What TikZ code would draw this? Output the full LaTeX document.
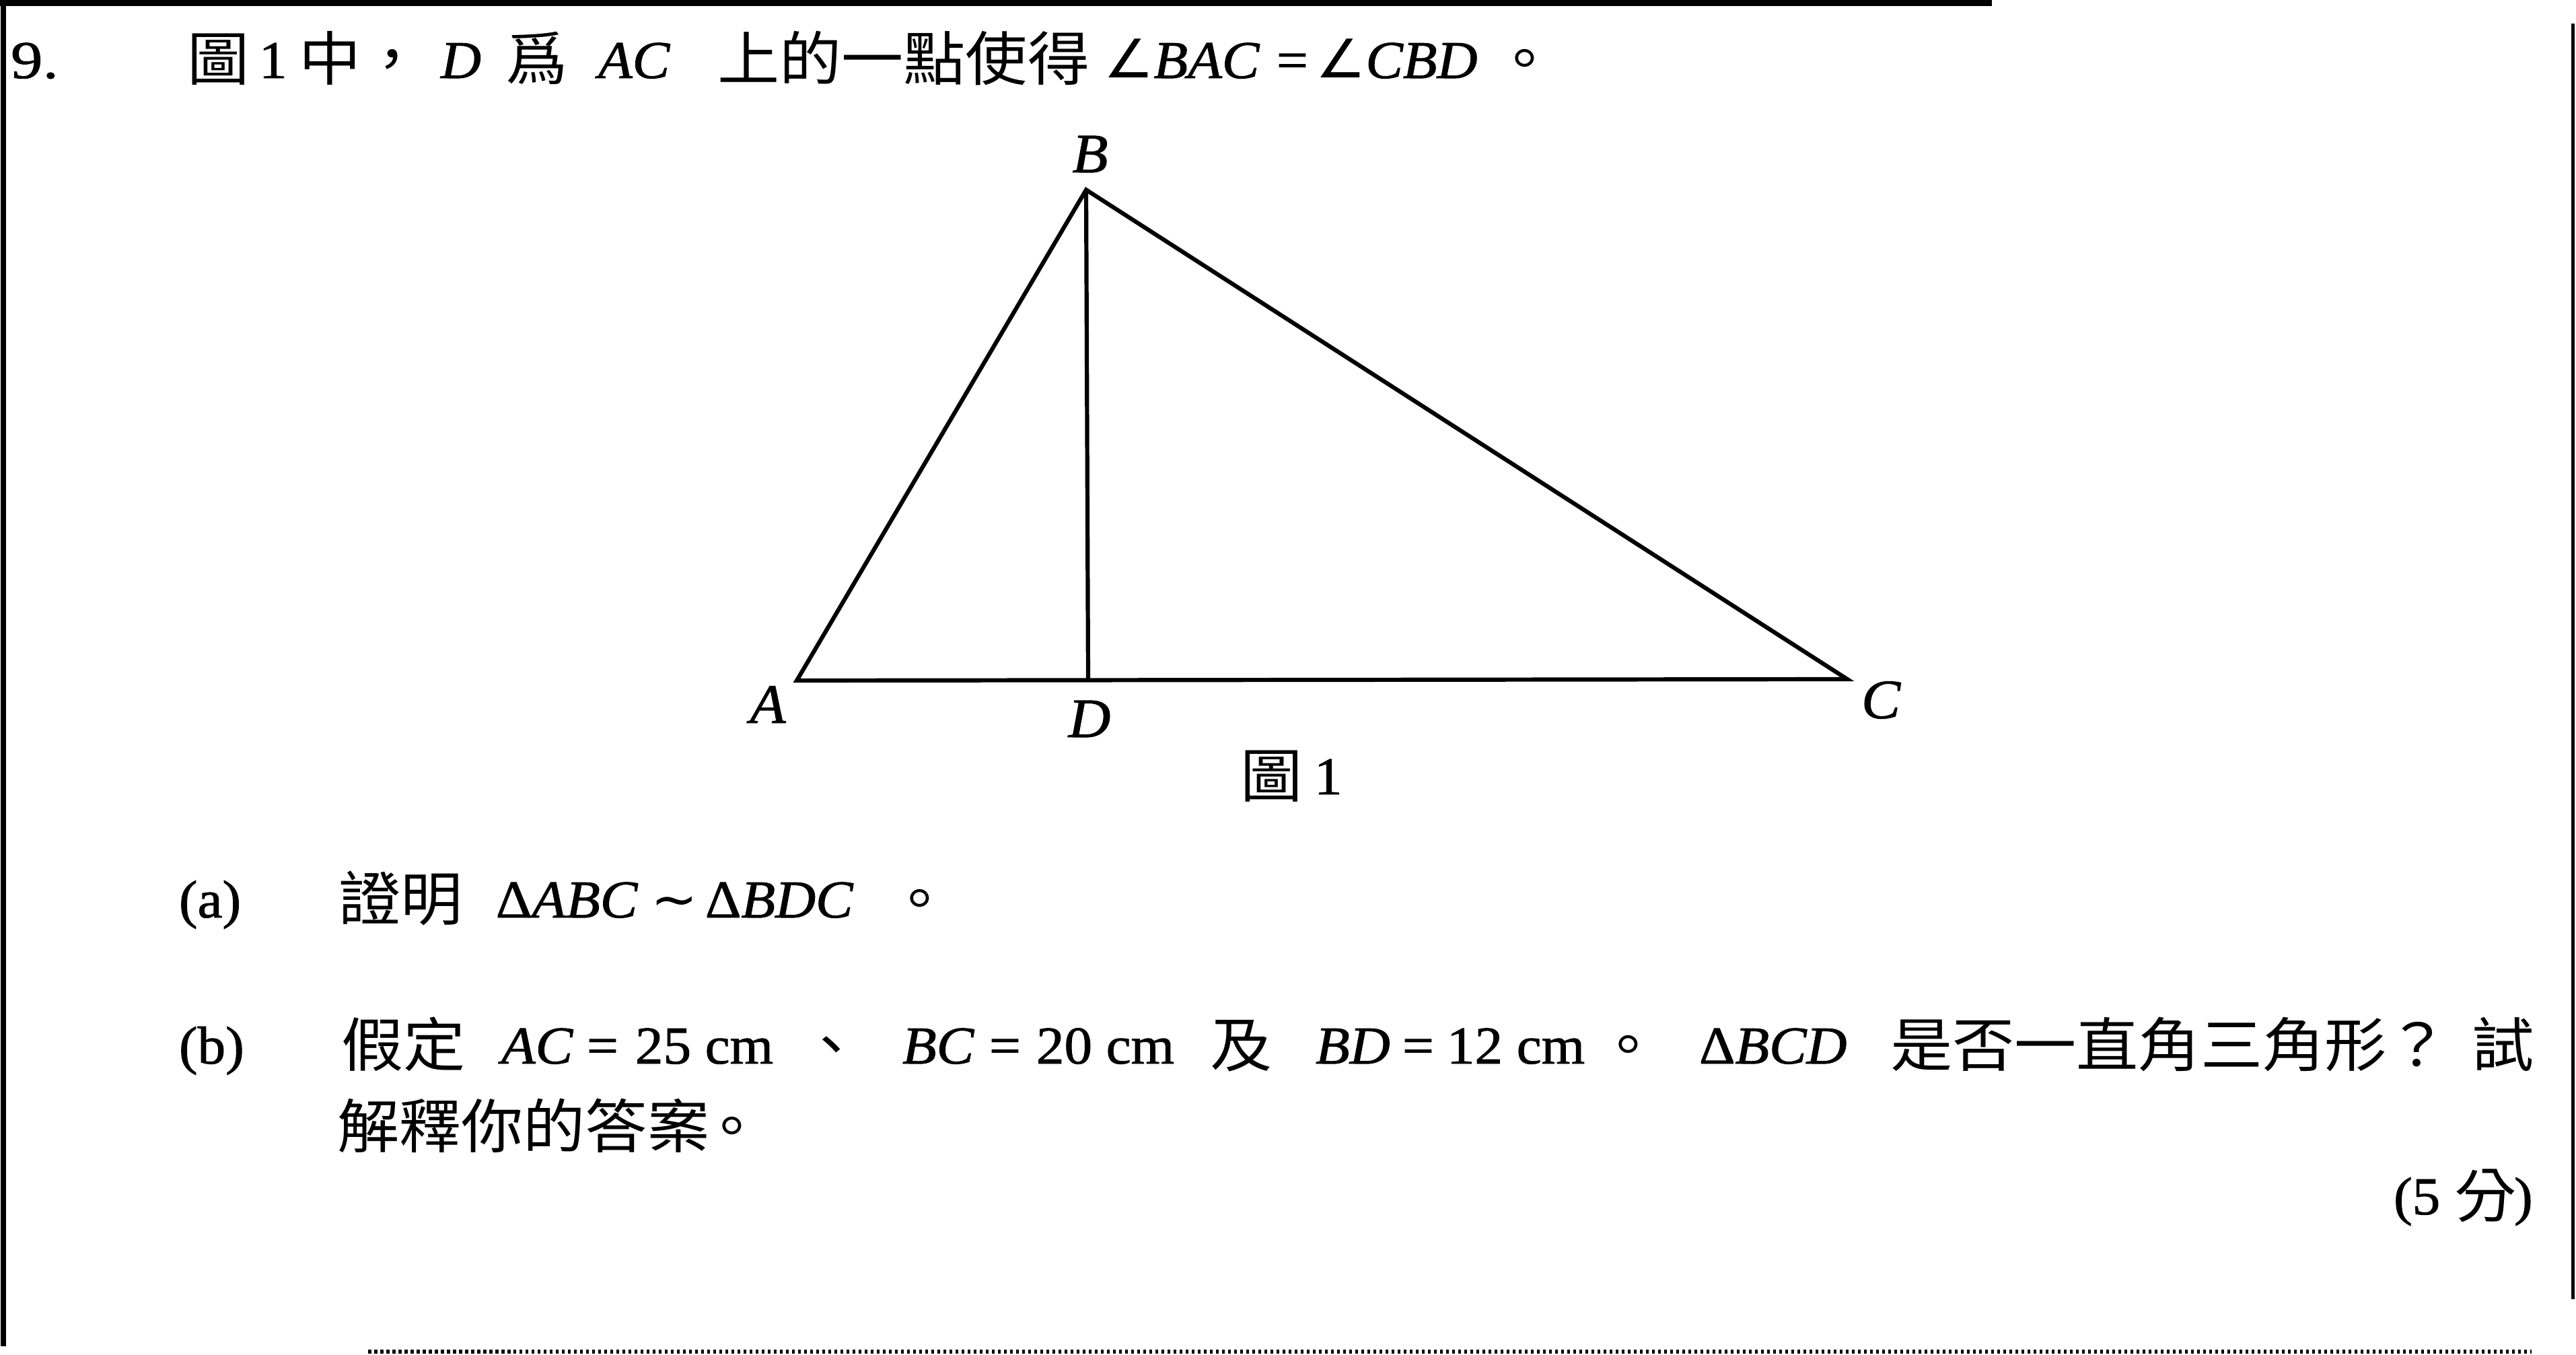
\documentclass[tikz,border=0pt]{standalone}
\usepackage{fontspec}
\setmainfont{Liberation Serif}[FakeStretch=1.05, FakeBold=1.2]
\newfontfamily\cjk{Noto Sans CJK TC}[Scale=1.1, FakeStretch=1.06]
\newfontfamily\dvs{DejaVu Sans}[FakeStretch=1.05]
\begin{document}
\begin{tikzpicture}[x=1cm,y=1cm,
  txt/.style={anchor=base west, inner sep=0pt, outer sep=0pt, font=\fontsize{22.5}{27}\selectfont},
  zh/.style={txt, font=\fontsize{22.5}{27}\selectfont\cjk, yshift=-0.04cm},
  zhc/.style={zh, anchor=base},
  ctr/.style={txt, anchor=base},
  lbl/.style={anchor=base, inner sep=0pt, outer sep=0pt, font=\fontsize{23.5}{28}\selectfont\itshape},
  seg/.style={line width=0.062cm, line join=miter},
  frame/.style={line width=0.09cm},
]
\useasboundingbox (0,0) rectangle (38.28,-20.13);
\fill[white] (0,0) rectangle (38.28,-20.13);

% frame of the question
\draw[frame] (0,-0.045) -- (29.6,-0.045);
\draw[frame, line width=0.07cm] (0.05,0) -- (0.05,-20.0);
\draw[line width=0.05cm] (38.23,-0.35) -- (38.23,-19.3);
\draw[line width=0.06cm, dash pattern=on 0.045cm off 0.045cm] (5.47,-20.08) -- (37.62,-20.08);

% line 1
\node[txt, font=\fontsize{22.5}{27}\selectfont\addfontfeatures{FakeStretch=1.2}] (n9) at (0.16,-1.16) {9.};
\node[zh] (t1) at (2.78,-1.16) {圖};
\node[txt] (t2) at (3.85,-1.16) {1};
\node[zh] (t3) at (4.44,-1.16) {中，};
\node[txt] (t4) at (6.55,-1.16) {\textit{D}};
\node[zh] (t5) at (7.51,-1.16) {爲};
\node[txt] (t6) at (8.89,-1.16) {\textit{AC}};
\node[zh] (t7) at (10.66,-1.16) {上的一點使得};
\node[txt] (t8) at (16.40,-1.16) {{\dvs ∠}\textit{BAC}};
\node[txt] (t9) at (18.97,-1.16) {=};
\node[txt] (t10) at (19.55,-1.16) {{\dvs ∠}\textit{CBD}};
\node[zhc] (t11) at (22.66,-1.16) {。};

% figure
\coordinate (A) at (11.84,-10.11);
\coordinate (B) at (16.14,-2.82);
\coordinate (C) at (27.45,-10.09);
\coordinate (D) at (16.17,-10.10);
\draw[seg] (A) -- (B) -- (C) -- cycle;
\draw[seg] (B) -- (D);
\node[lbl] (lB) at (16.20,-2.56) {B};
\node[lbl] (lA) at (11.41,-10.74) {A};
\node[lbl] (lD) at (16.19,-10.95) {D};
\node[lbl] (lC) at (27.95,-10.67) {C};
\node[zh] (f1) at (18.43,-11.80) {圖};
\node[txt] (f2) at (19.53,-11.80) {1};

% part (a)
\node[txt] (a0) at (2.66,-13.63) {(a)};
\node[zh] (a1) at (5.03,-13.63) {證明};
\node[txt] (a2) at (7.37,-13.63) {Δ\textit{ABC}};
\node[ctr] (a3) at (10.02,-13.63) {{\dvs ∼}};
\node[txt] (a4) at (10.48,-13.63) {Δ\textit{BDC}};
\node[zhc] (a5) at (13.67,-13.63) {。};

% part (b)
\node[txt] (b0) at (2.66,-15.80) {(b)};
\node[zh] (b1) at (5.07,-15.80) {假定};
\node[txt] (b2) at (7.45,-15.80) {\textit{AC}};
\node[txt] (b3) at (8.72,-15.80) {=};
\node[txt] (b4) at (9.44,-15.80) {25 cm};
\node[zhc] (b5) at (12.36,-15.80) {、};
\node[txt] (b6) at (13.41,-15.80) {\textit{BC}};
\node[txt] (b7) at (14.70,-15.80) {=};
\node[txt] (b8) at (15.40,-15.80) {20 cm};
\node[zh] (b9) at (17.98,-15.80) {及};
\node[txt] (b10) at (19.55,-15.80) {\textit{BD}};
\node[txt] (b11) at (20.84,-15.80) {=};
\node[txt] (b12) at (21.50,-15.80) {12 cm};
\node[zhc] (b13) at (24.20,-15.80) {。};
\node[txt] (b14) at (25.25,-15.80) {Δ\textit{BCD}};
\node[zh] (b15) at (28.09,-15.80) {是否一直角三角形？};
\node[zh] (b16) at (36.73,-15.80) {試};
\node[zh] (c1) at (5.01,-17.01) {解釋你的答案};
\node[zhc] (c2) at (10.88,-17.01) {。};

% marks
\node[txt] (p1) at (35.57,-18.04) {(5};
\node[zh] (p2) at (36.47,-18.04) {分};
\node[txt] (p3) at (37.36,-18.04) {)};
\end{tikzpicture}
\end{document}
